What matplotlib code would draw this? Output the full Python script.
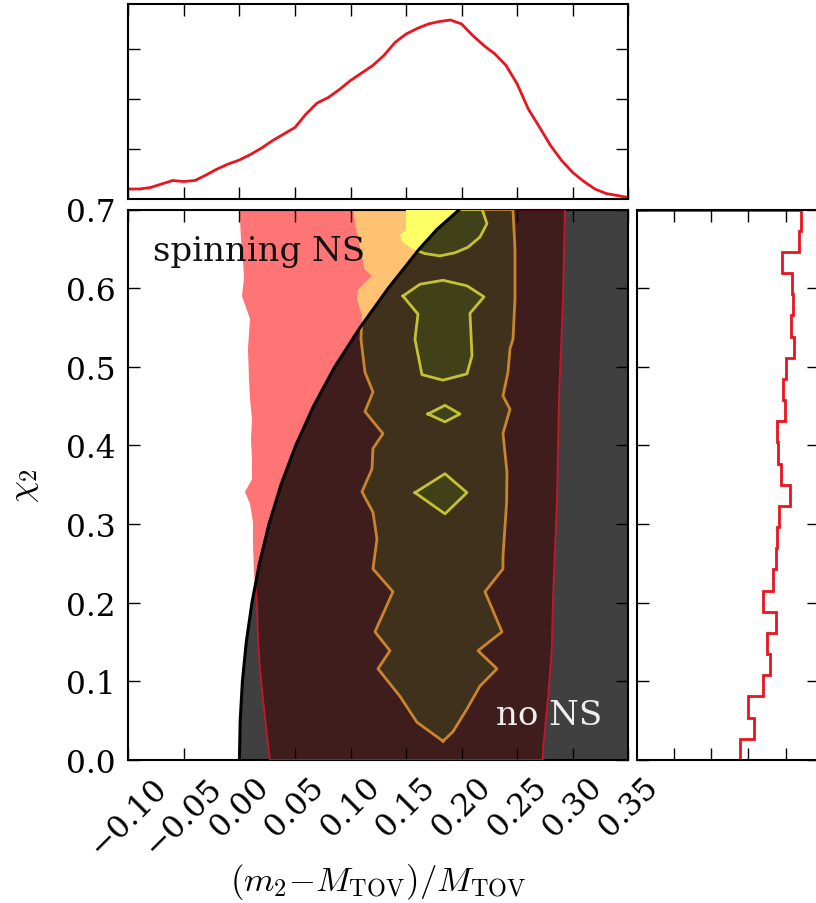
import numpy as np
import matplotlib
matplotlib.use('Agg')
import matplotlib.pyplot as plt

plt.rcParams['font.family'] = ['DejaVu Serif']
plt.rcParams['mathtext.fontset'] = 'cm'
plt.rcParams['axes.linewidth'] = 1.5

# ---------------- data ----------------
x_ticks = [-0.10, -0.05, 0.00, 0.05, 0.10, 0.15, 0.20, 0.25, 0.30, 0.35]
x_tick_labels = ['\u22120.10', '\u22120.05', '0.00', '0.05', '0.10', '0.15',
                 '0.20', '0.25', '0.30', '0.35']
chi_ticks = [0.0, 0.1, 0.2, 0.3, 0.4, 0.5, 0.6, 0.7]
chi_tick_labels = ['0.0', '0.1', '0.2', '0.3', '0.4', '0.5', '0.6', '0.7']

# top marginal: (m2 - M_TOV)/M_TOV
m_grid = [-0.10, -0.09, -0.08, -0.07, -0.06, -0.05, -0.04, -0.03, -0.02, -0.01,
          0.00, 0.01, 0.02, 0.03, 0.04, 0.05, 0.06, 0.07, 0.08, 0.09,
          0.10, 0.11, 0.12, 0.13, 0.14, 0.15, 0.16, 0.17, 0.18, 0.19,
          0.20, 0.21, 0.22, 0.23, 0.24, 0.25, 0.26, 0.27, 0.28, 0.29,
          0.30, 0.31, 0.32, 0.33, 0.34, 0.35]
m_density = [0.20, 0.20, 0.23, 0.30, 0.37, 0.35, 0.37, 0.48, 0.60, 0.70,
             0.78, 0.89, 1.02, 1.17, 1.30, 1.43, 1.70, 1.92, 2.03, 2.19,
             2.37, 2.52, 2.67, 2.87, 3.13, 3.30, 3.41, 3.50, 3.55, 3.58,
             3.50, 3.27, 3.07, 2.90, 2.67, 2.30, 1.80, 1.44, 1.07, 0.77,
             0.53, 0.35, 0.20, 0.11, 0.07, 0.03]

# right marginal: chi_2 histogram (26 bins from 0 to 0.7)
chi_edges = np.linspace(0.0, 0.7, 27)
chi_counts = [2.77, 3.14, 2.99, 3.39, 3.59, 3.49, 3.75, 3.39, 3.66, 3.75,
              3.77, 3.82, 4.11, 3.89, 3.80, 3.77, 3.98, 3.93, 4.02, 4.24,
              4.15, 4.20, 4.17, 3.91, 4.36, 4.42]

# maximum-mass boundary (spinning NS limit)
bound_chi = [0.00, 0.05, 0.10, 0.15, 0.20, 0.25, 0.30, 0.35, 0.40, 0.45,
             0.50, 0.55, 0.60, 0.65, 0.675, 0.70]
bound_x = [0.0000, 0.0007, 0.0027, 0.0062, 0.0113, 0.0180, 0.0266, 0.0374,
           0.0507, 0.0667, 0.0858, 0.1086, 0.1340, 0.1620, 0.1780, 0.1980]

# outer (red) credible region
red_left_chi = [0.000, 0.032, 0.078, 0.116, 0.154, 0.201, 0.239, 0.275, 0.303,
                0.326, 0.341, 0.357, 0.383, 0.408, 0.434, 0.459, 0.485, 0.523,
                0.561, 0.590, 0.612, 0.637, 0.663, 0.688, 0.700]
red_left_x = [0.0275, 0.0248, 0.0212, 0.0185, 0.0167, 0.0158, 0.0131, 0.0122,
              0.0122, 0.0095, 0.0050, 0.0113, 0.0113, 0.0104, 0.0113, 0.0095,
              0.0086, 0.0077, 0.0095, 0.0023, 0.0041, 0.0032, 0.0014, 0.0005,
              0.0005]
red_right_chi = [0.000, 0.014, 0.078, 0.141, 0.205, 0.268, 0.332, 0.396,
                 0.459, 0.523, 0.586, 0.650, 0.700]
red_right_x = [0.2730, 0.2732, 0.2777, 0.2811, 0.2822, 0.2840, 0.2858, 0.2867,
               0.2876, 0.2894, 0.2912, 0.2921, 0.2930]

# middle (orange) credible region
orange_left_chi = [0.024, 0.048, 0.081, 0.116, 0.139, 0.163, 0.214, 0.243,
                   0.281, 0.315, 0.341, 0.370, 0.396, 0.415, 0.443, 0.468,
                   0.493, 0.535, 0.565, 0.586, 0.598, 0.616, 0.623, 0.663, 0.700]
orange_left_x = [0.1832, 0.1598, 0.1445, 0.1247, 0.1355, 0.1220, 0.1382, 0.1202,
                 0.1238, 0.1202, 0.1103, 0.1193, 0.1202, 0.1292, 0.1130, 0.1202,
                 0.1130, 0.1094, 0.1103, 0.1058, 0.1067, 0.1193, 0.1130, 0.1067,
                 0.1022]
orange_right_chi = [0.024, 0.036, 0.065, 0.094, 0.116, 0.139, 0.163, 0.214,
                    0.243, 0.259, 0.328, 0.366, 0.415, 0.446, 0.463, 0.493,
                    0.523, 0.535, 0.586, 0.650, 0.700]
orange_right_x = [0.1832, 0.1922, 0.2048, 0.2165, 0.2318, 0.2147, 0.2363, 0.2210,
                  0.2372, 0.2372, 0.2405, 0.2408, 0.2372, 0.2435, 0.2372, 0.2417,
                  0.2435, 0.2462, 0.2480, 0.2480, 0.2462]

# inner (yellow) credible regions
yellow_top_chi = [0.700, 0.673, 0.668, 0.659, 0.650, 0.644, 0.641, 0.645, 0.652,
                  0.665, 0.682, 0.697, 0.700]
yellow_top_x = [0.1499, 0.1499, 0.1445, 0.1463, 0.1553, 0.1670, 0.1805, 0.1940,
                0.2057, 0.2165, 0.2228, 0.2192, 0.2183]
yellow_mid_chi = [0.590, 0.605, 0.610, 0.603, 0.589, 0.568, 0.542, 0.514, 0.491,
                  0.483, 0.490, 0.535, 0.567]
yellow_mid_x = [0.1472, 0.1625, 0.1832, 0.2048, 0.2201, 0.2075, 0.2084, 0.2093,
                0.2048, 0.1832, 0.1643, 0.1580, 0.1607]
yellow_d1_chi = [0.440, 0.451, 0.440, 0.430]
yellow_d1_x = [0.1697, 0.1850, 0.1985, 0.1850]
yellow_d2_chi = [0.340, 0.364, 0.340, 0.313]
yellow_d2_x = [0.1580, 0.1850, 0.2048, 0.1850]

# ---------------- figure ----------------
W, H = 816, 904
fig = plt.figure(figsize=(W / 100, H / 100), dpi=100)
ax = fig.add_axes([128.3 / W, (H - 761) / H, 500 / W, 550.5 / H])
ax_top = fig.add_axes([128.3 / W, (H - 200) / H, 500 / W, 195 / H])
ax_r = fig.add_axes([636.7 / W, (H - 761) / H, 182.3 / W, 550.5 / H])

red_fill = '#ff7474'
orange_fill = '#ffc272'
yellow_fill = '#ffff66'


def closed(xl, yl):
    return list(xl) + [xl[0]], list(yl) + [yl[0]]


red_px = red_left_x + red_right_x[::-1]
red_py = red_left_chi + red_right_chi[::-1]
org_px = orange_left_x + orange_right_x[::-1]
org_py = orange_left_chi + orange_right_chi[::-1]

ax.fill(red_px, red_py, color=red_fill, lw=0, zorder=1)
ax.fill(org_px, org_py, color=orange_fill, lw=0, zorder=2)
yellow_shapes = [(yellow_top_x, yellow_top_chi), (yellow_mid_x, yellow_mid_chi),
                 (yellow_d1_x, yellow_d1_chi), (yellow_d2_x, yellow_d2_chi)]
for yx, yc in yellow_shapes:
    ax.fill(yx, yc, color=yellow_fill, lw=0, zorder=3)

overlay = ax.fill_betweenx(bound_chi, bound_x, 0.35, color='black', alpha=0.75,
                           lw=0, zorder=4)
clip = overlay.get_paths()[0]

outlines = []
cx, cy = closed(red_px, red_py)
outlines += ax.plot(cx, cy, color='#c8142c', lw=1.3, zorder=5)
cx, cy = closed(org_px, org_py)
outlines += ax.plot(cx, cy, color='#c8862c', lw=2.0, zorder=5)
for yx, yc in yellow_shapes:
    cx, cy = closed(yx, yc)
    outlines += ax.plot(cx, cy, color='#c4c232', lw=2.0, zorder=5)
for ln in outlines:
    ln.set_clip_path(clip, ax.transData)

ax.plot(bound_x, bound_chi, color='black', lw=2.2, zorder=6)

ax.text(-0.078, 0.647, 'spinning NS', fontsize=24.5, color='#111111',
        ha='left', va='center', zorder=7)
ax.text(0.327, 0.057, 'no NS', fontsize=24.5, color='#eeeeee',
        ha='right', va='center', zorder=7)

ax.set_xlim(-0.10, 0.35)
ax.set_ylim(0.0, 0.7)
ax.set_xticks(x_ticks, x_tick_labels, rotation=45)
ax.set_yticks(chi_ticks, chi_tick_labels)
ax.tick_params(direction='in', length=8.6, width=1.0, top=True, right=True,
               labelsize=22.5)
ax.tick_params(axis='y', pad=9)
ax.tick_params(axis='x', pad=8)
ax.set_xlabel(r'$(m_2{-}M_{\rm TOV})/M_{\rm TOV}$', fontsize=25)
ax.xaxis.set_label_coords(0.5, -0.183)
ax.set_ylabel(r'$\chi_2$', fontsize=25, labelpad=18)

# top marginal
ax_top.plot(m_grid, m_density, color='#e8141e', lw=2.0)
ax_top.set_xlim(-0.10, 0.35)
ax_top.set_ylim(0, 3.9)
ax_top.set_xticks(x_ticks)
ax_top.set_yticks([1, 2, 3])
ax_top.tick_params(direction='in', length=8.6, width=1.0, top=True, right=True,
                   labelbottom=False, labelleft=False)

# right marginal
ax_r.stairs(chi_counts, chi_edges, orientation='horizontal', baseline=0,
            color='#e8141e', lw=2.0)
ax_r.set_ylim(0.0, 0.7)
ax_r.set_xlim(0, 4.9)
ax_r.set_xticks([1, 2, 3, 4])
ax_r.set_yticks(chi_ticks)
ax_r.tick_params(direction='in', length=8.6, width=1.0, top=True, right=True,
                 labelbottom=False, labelleft=False)

fig.savefig('out.png', dpi=100)
